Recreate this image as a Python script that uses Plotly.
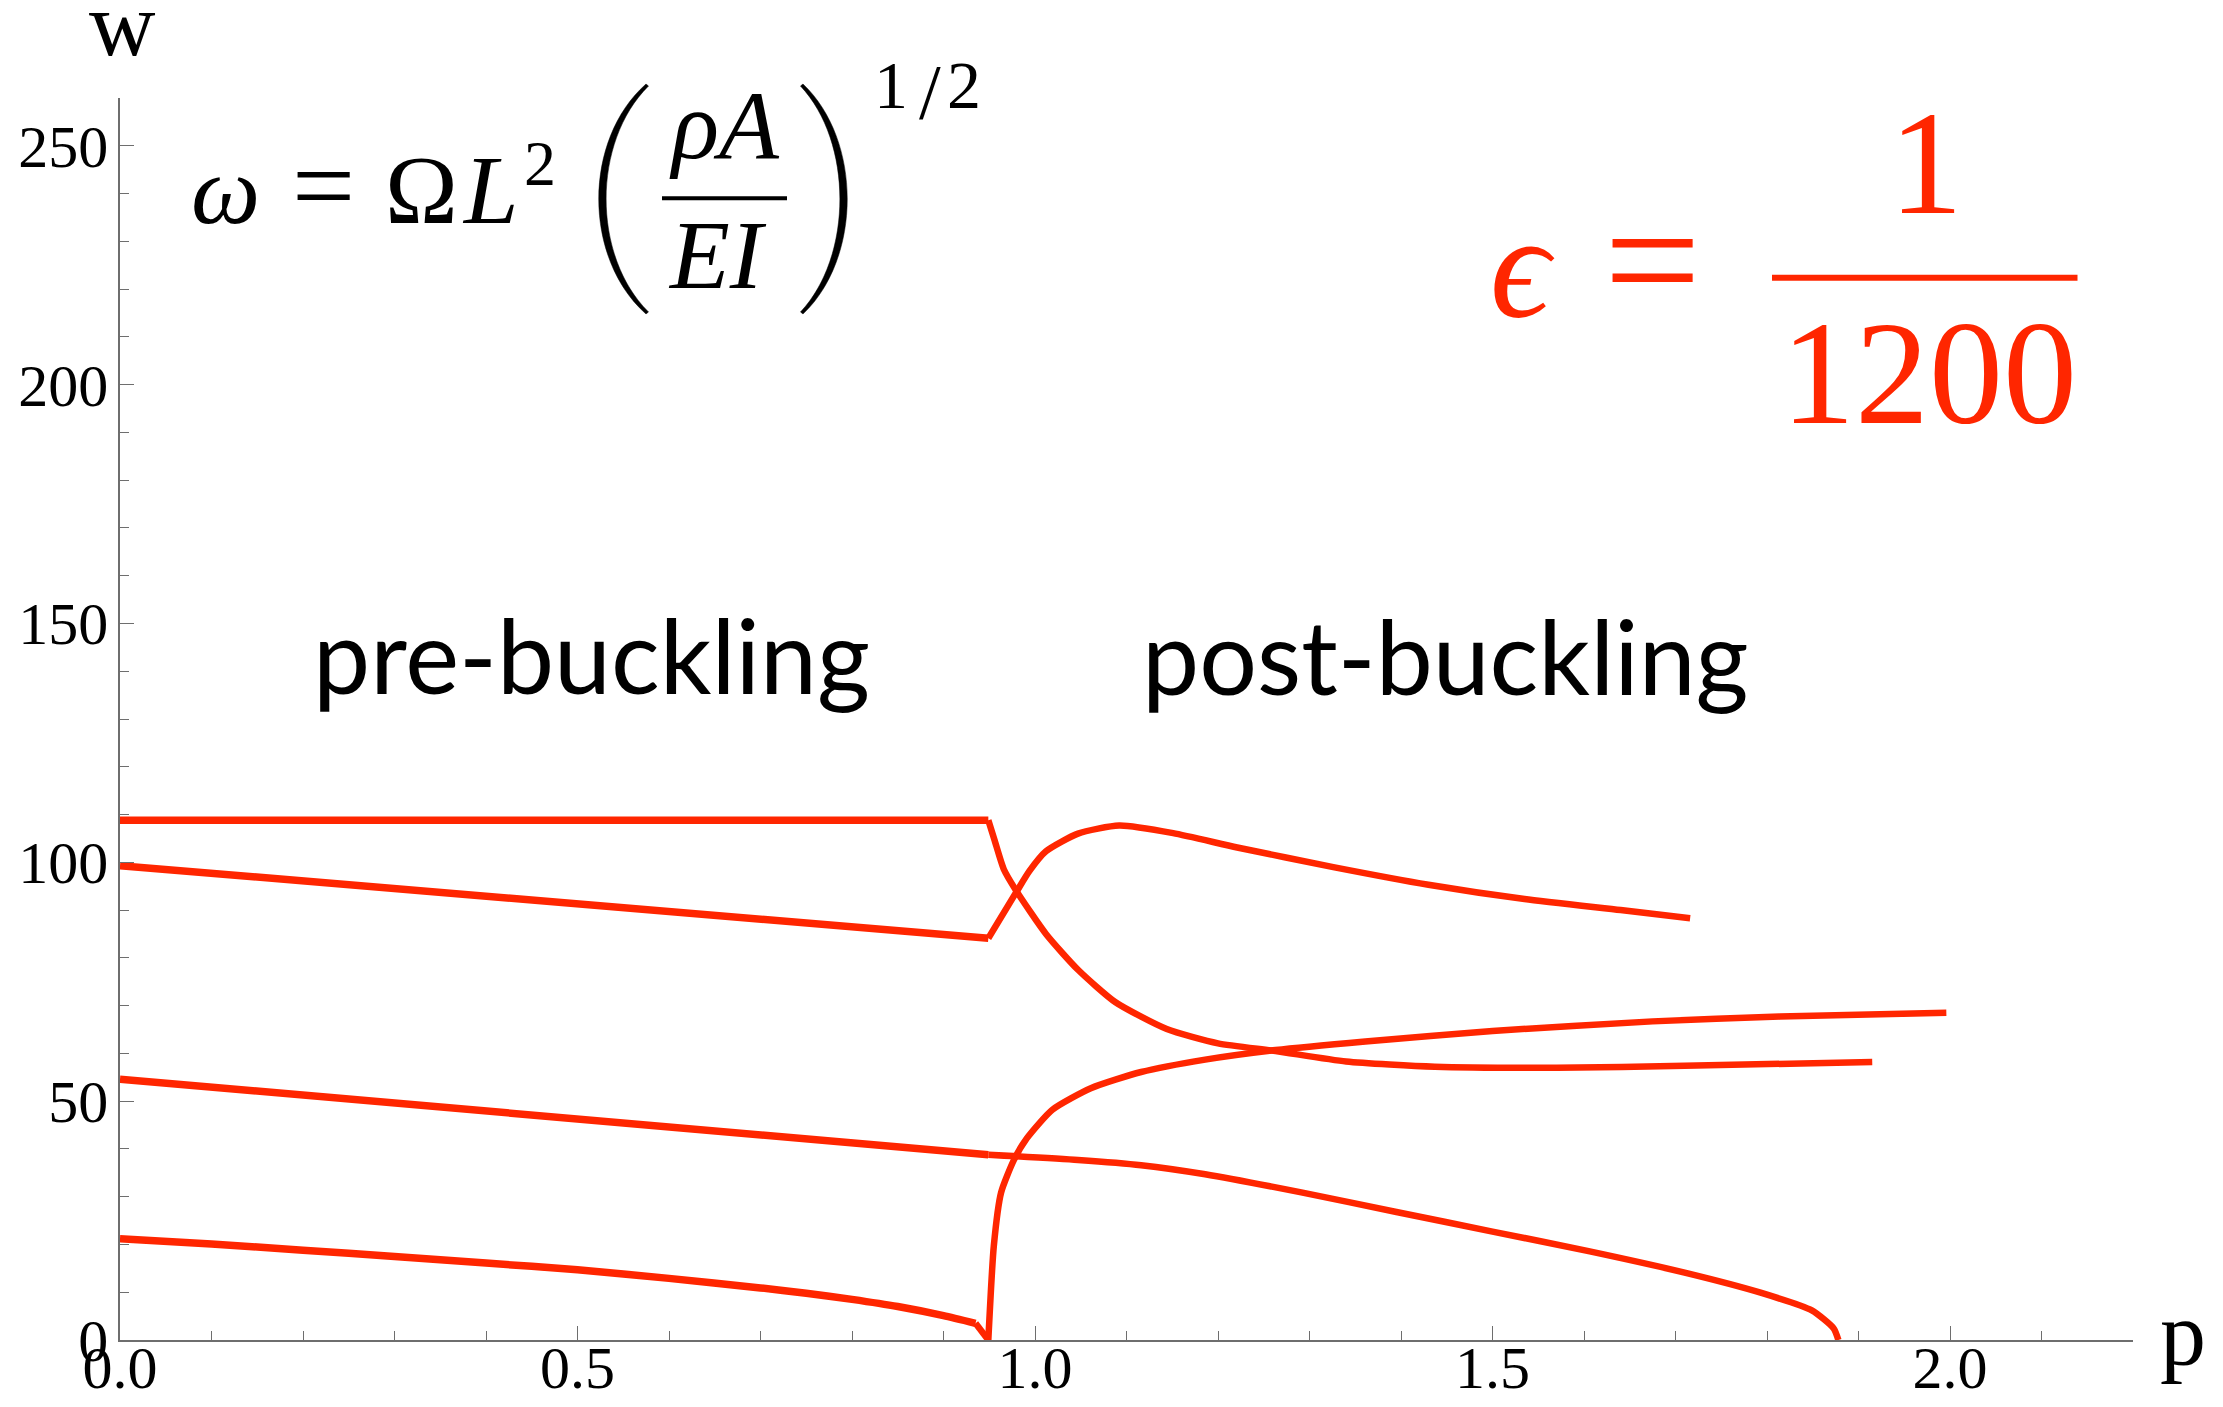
import plotly.graph_objects as go

# ---------------- data ----------------
# branch 1: top flat pre-buckling, then descending post-buckling branch
p1_pre = [0.0, 0.5, 0.949]
w1_pre = [108.8, 108.8, 108.8]
p1_post = [0.949, 0.956, 0.966, 0.980, 1.012, 1.047, 1.088, 1.144, 1.200, 1.263, 1.340, 1.437, 1.570, 1.710, 1.915]
w1_post = [108.8, 104.5, 98.5, 93.9, 85.0, 77.5, 70.7, 65.1, 62.1, 60.5, 58.3, 57.2, 57.0, 57.4, 58.2]

# branch 2: second pre-buckling line, then hump post-buckling
p2_pre = [0.0, 0.5, 0.949]
w2_pre = [99.3, 91.3, 84.1]
p2_post = [0.949, 0.980, 0.994, 1.012, 1.047, 1.092, 1.151, 1.221, 1.326, 1.430, 1.535, 1.640, 1.716]
w2_post = [84.1, 93.9, 98.2, 102.3, 106.0, 107.7, 106.1, 103.1, 99.0, 95.3, 92.3, 90.0, 88.3]

# branch 3: third pre-buckling line, then decreasing to zero
p3_pre = [0.0, 0.5, 0.949]
w3_pre = [54.6, 46.3, 38.8]
p3_post = [0.949, 1.047, 1.116, 1.186, 1.291, 1.395, 1.500, 1.605, 1.710, 1.793, 1.849, 1.873, 1.878]
w3_post = [38.8, 37.7, 36.6, 34.7, 30.9, 26.8, 22.7, 18.6, 14.1, 9.9, 6.2, 2.4, 0.0]

# branch 4: lowest pre-buckling curve
p4_pre = [0.0, 0.1, 0.2, 0.3, 0.4, 0.5, 0.6, 0.7, 0.75, 0.8, 0.85, 0.9, 0.935, 0.949]
w4_pre = [21.2, 20.1, 18.8, 17.5, 16.1, 14.7, 12.9, 10.9, 9.8, 8.5, 7.0, 5.1, 3.5, 0.0]

# branch 5: post-buckling branch rising from zero
p5_post = [0.949, 0.955, 0.963, 0.977, 0.991, 1.019, 1.061, 1.116, 1.186, 1.263, 1.361, 1.500, 1.675, 1.814, 1.996]
w5_post = [0.0, 19.7, 30.9, 37.7, 42.2, 48.2, 52.7, 56.1, 58.7, 60.7, 62.5, 64.7, 66.7, 67.7, 68.5]

x_ticks = [0.0, 0.5, 1.0, 1.5, 2.0]
x_ticktext = ["0.0", "0.5", "1.0", "1.5", "2.0"]
y_ticks = [0, 50, 100, 150, 200, 250]
y_ticktext = ["0", "50", "100", "150", "200", "250"]

RED = "#FF2600"
SERIF = "Liberation Serif"

# ---------------- figure geometry ----------------
W_FIG, H_FIG = 2223, 1407
PW, PH = 2013, 1242
L, T = 120, 98
R, B = W_FIG - L - PW, H_FIG - T - PH

fig = go.Figure()

PRE_W, POST_W = 7.5, 6.5
for xs, ys in [(p1_pre, w1_pre), (p2_pre, w2_pre), (p3_pre, w3_pre)]:
    fig.add_trace(go.Scatter(x=xs, y=ys, mode="lines",
                             line=dict(color=RED, width=PRE_W),
                             showlegend=False, hoverinfo="skip"))
# lowest curve: smooth part + final drop to zero
fig.add_trace(go.Scatter(x=p4_pre[:-1], y=w4_pre[:-1], mode="lines",
                         line=dict(color=RED, width=PRE_W, shape="spline", smoothing=0.6),
                         showlegend=False, hoverinfo="skip"))
fig.add_trace(go.Scatter(x=p4_pre[-2:], y=w4_pre[-2:], mode="lines",
                         line=dict(color=RED, width=POST_W),
                         showlegend=False, hoverinfo="skip"))
for xs, ys in [(p1_post, w1_post), (p2_post, w2_post), (p3_post, w3_post), (p5_post, w5_post)]:
    fig.add_trace(go.Scatter(x=xs, y=ys, mode="lines",
                             line=dict(color=RED, width=POST_W, shape="spline", smoothing=0.6),
                             showlegend=False, hoverinfo="skip"))


def xp(px):
    return (px - L) / PW


def yp(py):
    return (T + PH - py) / PH


annotations = []
shapes = []


def text(s, cx, baseline, size, color="black", family=SERIF, descent=0.216):
    annotations.append(dict(
        text=s, x=xp(cx), y=yp(baseline + descent * size),
        xref="paper", yref="paper", xanchor="center", yanchor="bottom",
        showarrow=False, borderpad=0, borderwidth=0,
        font=dict(size=size, color=color, family=family)))


# axis labels
text("w", 122, 55, 92)
text("p", 2183, 1365, 92)

# black formula  omega = Omega L^2 (rho A / E I)^(1/2)
text("<i>ω</i>", 225, 223, 98)
text("=", 323, 223, 112)
text("Ω", 421.7, 223, 98)
text("<i>L</i>", 490, 223, 98)
text("2", 540, 185, 64)
text("<i>ρA</i>", 724.5, 158, 98)
text("<i>EI</i>", 717.5, 288, 98)
text("1", 891, 108, 68)
text("/", 930, 118, 78)
text("2", 964, 108, 68)

# red epsilon formula
text("<i>ϵ</i>", 1522, 316.7, 148, color=RED)
text("=", 1652.5, 318, 172, color=RED)
text("1", 1925.5, 212.7, 148, color=RED)
text("1200", 1928.5, 422.7, 148, color=RED)

# region labels
text("pre-buckling", 591.5, 694, 102, family="Lato", descent=0.213)
text("post-buckling", 1445.5, 695.7, 102, family="Lato", descent=0.213)

# fraction bars
shapes.append(dict(type="line", xref="paper", yref="paper",
                   x0=xp(662), x1=xp(787), y0=yp(198.3), y1=yp(198.3),
                   line=dict(color="black", width=4)))
shapes.append(dict(type="line", xref="paper", yref="paper",
                   x0=xp(1772), x1=xp(2077.5), y0=yp(277.7), y1=yp(277.7),
                   line=dict(color=RED, width=6)))


def paren(pts):
    segs = []
    for cmd, coords in pts:
        c = " ".join(f"{xp(a):.5f},{yp(b):.5f}" for a, b in coords)
        segs.append(f"{cmd} {c}")
    return " ".join(segs) + " Z"


left_paren = paren([("M", [(646, 84)]),
                    ("C", [(583, 140), (583, 258), (646, 314)]),
                    ("L", [(648.5, 312)]),
                    ("C", [(592, 256), (592, 142), (648.5, 86)])])
right_paren = paren([("M", [(803, 84)]),
                     ("C", [(862, 140), (862, 258), (803, 314)]),
                     ("L", [(800.5, 312)]),
                     ("C", [(853, 256), (853, 142), (800.5, 86)])])
for pth in (left_paren, right_paren):
    shapes.append(dict(type="path", xref="paper", yref="paper", path=pth,
                       fillcolor="black", line=dict(color="black", width=0.5)))

axis_common = dict(
    showgrid=False, zeroline=False, showline=True, linecolor="#6e6e6e", linewidth=1.6,
    ticks="inside", ticklen=14, tickwidth=1.4, tickcolor="#6e6e6e",
    tickfont=dict(family=SERIF, size=60, color="black"),
    automargin=False, fixedrange=True,
)

fig.update_layout(
    width=W_FIG, height=H_FIG,
    margin=dict(l=L, r=R, t=T, b=B, pad=0),
    paper_bgcolor="white", plot_bgcolor="white",
    xaxis=dict(range=[0, 2.2], tickmode="array", tickvals=x_ticks, ticktext=x_ticktext,
               minor=dict(dtick=0.1, tick0=0, ticks="inside", ticklen=9, tickwidth=1.4,
                          tickcolor="#6e6e6e"),
               ticklabelstandoff=-26, **axis_common),
    yaxis=dict(range=[0, 260], tickmode="array", tickvals=y_ticks, ticktext=y_ticktext,
               minor=dict(dtick=10, tick0=0, ticks="inside", ticklen=9, tickwidth=1.4,
                          tickcolor="#6e6e6e"),
               ticklabelstandoff=-2, **axis_common),
    annotations=annotations,
    shapes=shapes,
    showlegend=False,
)

fig.write_html(
    "out.html",
    config={"displayModeBar": False},
    post_script="document.body.style.margin='0';document.body.style.overflow='hidden';",
)
